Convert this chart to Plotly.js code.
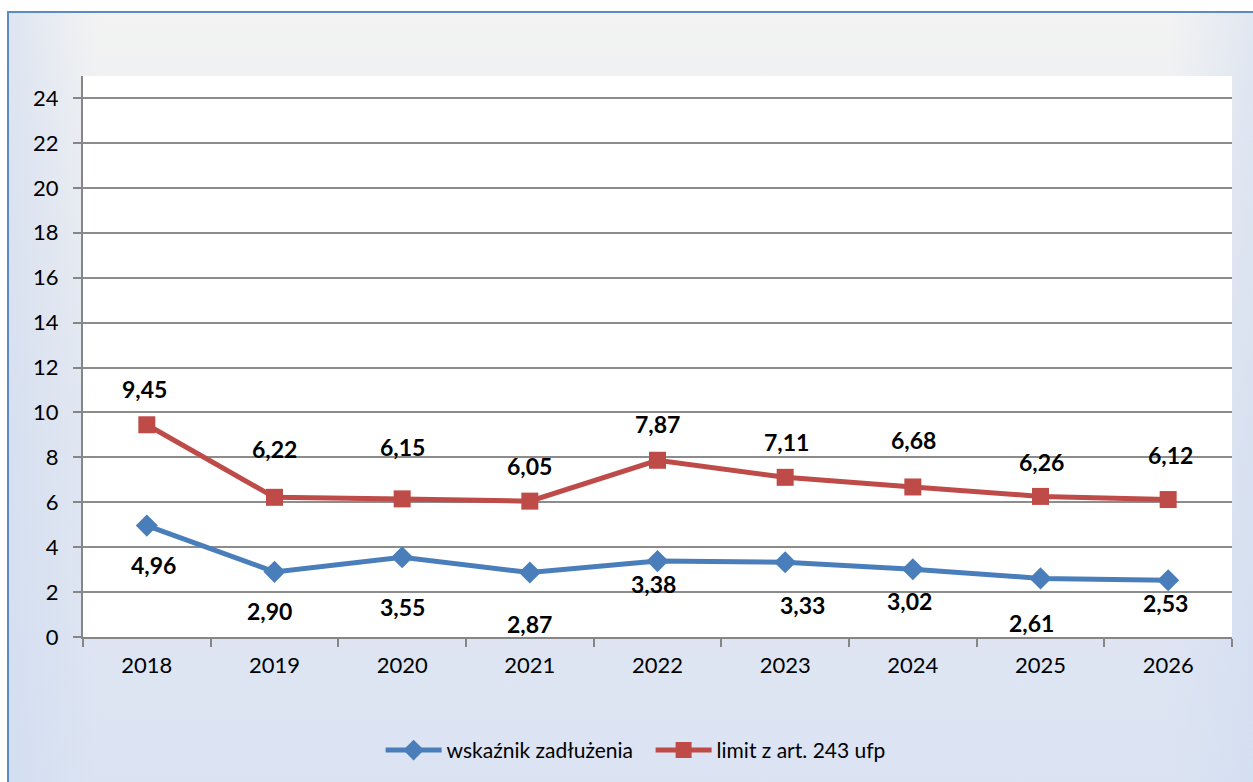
<!DOCTYPE html>
<html>
<head>
<meta charset="utf-8">
<script src="https://cdn.plot.ly/plotly-3.0.1.min.js"></script>
<style>
  html, body { margin: 0; padding: 0; width: 1253px; height: 782px; overflow: hidden; background: #ffffff; }
  #frame {
    position: absolute; left: 7px; top: 11px; width: 1260px; height: 790px;
    border-left: 2px solid #5b8ac6; border-top: 2px solid #5b8ac6;
    background:
      linear-gradient(90deg, rgba(205,218,240,0.55) 0%, rgba(205,218,240,0) 7%, rgba(205,218,240,0) 92%, rgba(205,218,240,0.55) 100%),
      linear-gradient(180deg, #f3f3f3 0%, #eceef2 18%, #e2e7f1 55%, #dbe3f3 100%);
  }
  #chart { position: absolute; left: 0; top: 0; width: 1253px; height: 782px; }
</style>
</head>
<body>
<div id="frame"></div>
<div id="chart"></div>
<script>
const years = ['2018','2019','2020','2021','2022','2023','2024','2025','2026'];
const debtRatio = [4.96, 2.90, 3.55, 2.87, 3.38, 3.33, 3.02, 2.61, 2.53];
const limit243 = [9.45, 6.22, 6.15, 6.05, 7.87, 7.11, 6.68, 6.26, 6.12];
const seriesNames = ['wskaźnik zadłużenia', 'limit z art. 243 ufp'];

// label pixel offsets (layout only)
const limitLabelShift = [36, 48, 52, 35, 36, 35, 47, 34, 45];
const limitLabelX = [-2, 0, 0, 0, 0, 1, 1, 1, 2];
const debtLabelShift = [-39, -39, -50, -51, -23, -43, -32, -45, -23];
const debtLabelX = [7, -5, 0, 0, -4, 17, -3, -9, -3];

const fmt = v => v.toFixed(2).replace('.', ',');
const labelFont = { family: 'Lato, "Open Sans", sans-serif', size: 23, color: '#000000' };

const traces = [
  {
    x: years, y: debtRatio, name: seriesNames[0], type: 'scatter', mode: 'lines+markers',
    line: { color: '#4a7ebb', width: 5 },
    marker: { symbol: 'diamond', size: 17, color: '#4a7ebb' },
    cliponaxis: false
  },
  {
    x: years, y: limit243, name: seriesNames[1], type: 'scatter', mode: 'lines+markers',
    line: { color: '#be4b48', width: 5 },
    marker: { symbol: 'square', size: 17, color: '#be4b48' },
    cliponaxis: false
  }
];

const annotations = [];
years.forEach((yr, i) => {
  annotations.push({
    x: i, y: limit243[i], xref: 'x', yref: 'y', text: '<b>' + fmt(limit243[i]) + '</b>',
    showarrow: false, yshift: limitLabelShift[i], xshift: limitLabelX[i], font: labelFont
  });
  annotations.push({
    x: i, y: debtRatio[i], xref: 'x', yref: 'y', text: '<b>' + fmt(debtRatio[i]) + '</b>',
    showarrow: false, yshift: debtLabelShift[i], xshift: debtLabelX[i], font: labelFont
  });
});

const layout = {
  width: 1253, height: 782,
  paper_bgcolor: 'rgba(0,0,0,0)',
  plot_bgcolor: '#ffffff',
  margin: { l: 83, r: 21, t: 76, b: 144 },
  font: { family: 'Lato, "Open Sans", sans-serif', color: '#000000' },
  showlegend: true,
  legend: {
    orientation: 'h', x: 0.494, xanchor: 'center', y: -0.2, yanchor: 'middle',
    font: { size: 21, color: '#000000' }, bgcolor: 'rgba(0,0,0,0)',
    itemwidth: 56, tracegroupgap: 0, entrywidth: 199, entrywidthmode: 'pixels'
  },
  xaxis: {
    type: 'category', range: [-0.5, 8.5],
    showgrid: false, showline: true, linecolor: '#868686', linewidth: 2,
    ticks: 'outside', ticklen: 8, tickwidth: 2, tickcolor: '#868686',
    tickson: 'boundaries',
    tickfont: { size: 22, color: '#000000' }, ticklabelstandoff: 8
  },
  yaxis: {
    range: [0, 24.98], tickmode: 'linear', tick0: 0, dtick: 2,
    showgrid: true, gridcolor: '#8c8c8c', gridwidth: 2,
    showline: true, linecolor: '#868686', linewidth: 2,
    ticks: 'outside', ticklen: 8, tickwidth: 2, tickcolor: '#868686',
    zeroline: false,
    tickfont: { size: 22, color: '#000000' }, ticklabelstandoff: 10
  },
  annotations: annotations
};

Plotly.newPlot('chart', traces, layout, { displayModeBar: false, staticPlot: true });
</script>
</body>
</html>
